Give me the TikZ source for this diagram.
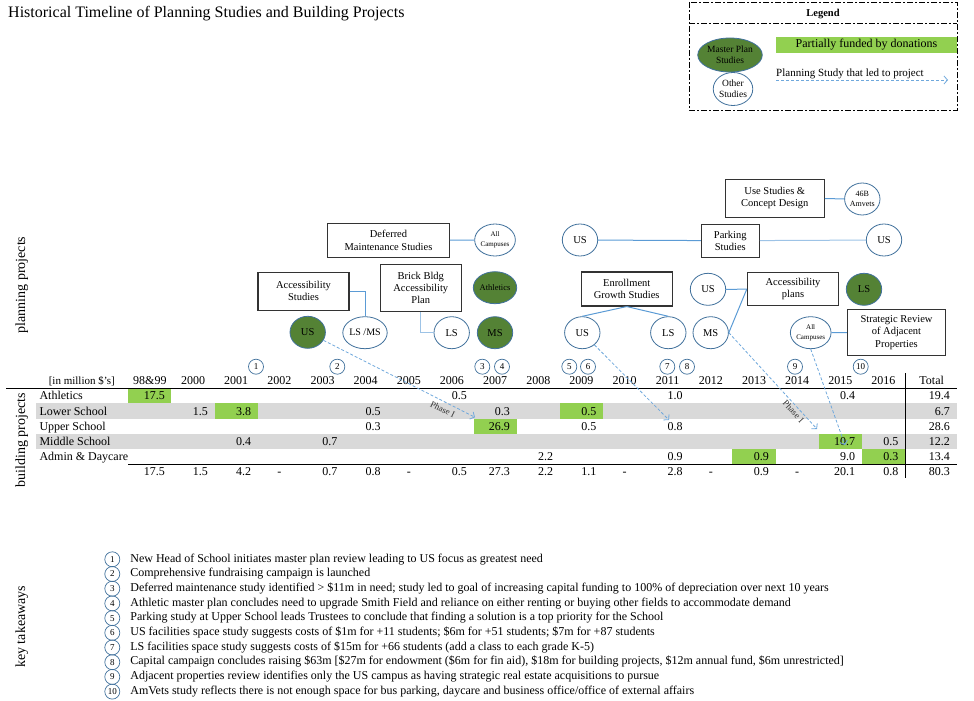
\documentclass[tikz,border=0pt]{standalone}
\usepackage{fontspec}
\setmainfont{Liberation Serif}
\usepackage{tikz}
\usetikzlibrary{arrows.meta,shapes.geometric,positioning}

\definecolor{circblue}{HTML}{41719C}
\definecolor{connblue}{HTML}{5B9BD5}
\definecolor{connlight}{HTML}{9DC3E6}
\definecolor{ledblue}{HTML}{6FA8DC}
\definecolor{darkgreen}{HTML}{548235}
\definecolor{cellgreen}{HTML}{92D050}
\definecolor{rowgrey}{HTML}{D9D9D9}

\tikzset{
  studybox/.style={draw=black!80, line width=1.1pt, fill=white, align=center, inner sep=1pt,
    font=\fontsize{10.5}{12.4}\selectfont},
  otherstudy/.style={ellipse, draw=circblue, line width=0.8pt, fill=white, minimum width=35.4pt,
    minimum height=32pt, inner sep=0pt, align=center, font=\fontsize{10.5}{12}\selectfont},
  masterstudy/.style={otherstudy, fill=darkgreen},
  smalltext/.style={font=\fontsize{7}{9.5}\selectfont},
  conn/.style={draw=connblue, line width=1pt},
  led/.style={draw=ledblue, line width=0.8pt, dash pattern=on 3pt off 2pt,
    -{Straight Barb[length=3.5pt,width=8pt]}},
  phase/.style={font=\fontsize{9}{10}\selectfont, text=black!80, inner sep=1pt},
  numc/.style={circle, draw=circblue, line width=0.7pt, minimum size=15pt, inner sep=0pt,
    font=\fontsize{9}{9}\selectfont},
  tbl/.style={font=\fontsize{12}{14}\selectfont, inner sep=0pt},
  val/.style={tbl, anchor=base east},
  yr/.style={tbl, anchor=base},
  sidelabel/.style={rotate=90, font=\fontsize{14}{16}\selectfont},
  takeaway/.style={font=\fontsize{12}{14}\selectfont, text height=8.5pt, text depth=3pt, inner sep=0pt},
  legendline/.style={line width=0.9pt, dash pattern=on 6pt off 2pt on 2pt off 2pt}
}

\begin{document}
\begin{tikzpicture}[x=1pt,y=-1pt]
  \useasboundingbox (0,0) rectangle (974,701);

  %title
  \node[anchor=base west, inner sep=0pt, font=\fontsize{16}{18}\selectfont] (title) at (8,17.5)
    {Historical Timeline of Planning Studies and Building Projects};

  %legend
  \draw[legendline] (689,2) rectangle (957,110);
  \draw[legendline] (689,23) -- (957,23);
  \node[font=\bfseries\fontsize{10.5}{12}\selectfont] (legend) at (823,14) {Legend};
  \node[fill=cellgreen, minimum width=181pt, minimum height=16pt, inner sep=0pt,
    font=\fontsize{12}{14}\selectfont] (donate) at (866.5,45) {Partially funded by donations};
  \node[masterstudy, minimum width=36pt, minimum height=34pt, font=\fontsize{9.5}{10.7}\selectfont]
    (lgmaster) at (730,55) {Master Plan\\Studies};
  \node[otherstudy, minimum width=38pt, minimum height=33pt, font=\fontsize{9.5}{10.7}\selectfont]
    (lgother) at (733,89) {Other\\Studies};
  \coordinate (lgA) at (776,80);
  \coordinate (lgB) at (948,80);
  \draw[led] (lgA) -- (lgB);
  \node[anchor=base west, inner sep=0pt, font=\fontsize{11}{13}\selectfont] (lgtext) at (776,77)
    {Planning Study that led to project};

  %side labels
  \node[sidelabel] (planlab) at (21.7,285) {planning projects};
  \node[sidelabel] (buildlab) at (21.7,440) {building projects};
  \node[sidelabel] (keylab) at (21.7,626.7) {key takeaways};

  %table background
  \fill[rowgrey] (36,403.4) rectangle (956.7,418.5);
  \fill[rowgrey] (36,433.6) rectangle (956.7,448.7);
  \foreach \c/\r in {0/0, 2/1, 10/1, 8/2, 16/3, 14/4, 17/4}
    \fill[cellgreen] ({128.3+43.15*\c},{388.3+15.1*\r}) rectangle ++(43.15,15.1);

  %table rules
  \draw[line width=0.8pt] (6,388.3) -- (956.7,388.3);
  \draw[line width=0.8pt] (128.3,464) -- (956.7,464);
  \draw[line width=0.8pt] (905.7,373) -- (905.7,478);

  %header
  \node[tbl, anchor=base east, font=\fontsize{11}{13}\selectfont] (unit) at (115,384.3) {[in million \$'s]};
  \node[yr] (y1998) at (149.9,384.3) {98\&99};
  \foreach \y in {2000,...,2016}
    \node[yr] (y\y) at ({149.9+43.15*(\y-1999)},384.3) {\y};
  \node[yr] (ytot) at (931.7,384.3) {Total};

  %milestones
  \foreach \x/\m in {256/1, 337.3/2, 482.3/3, 502/4, 569.3/5, 588/6, 667.3/7, 687/8, 795/9, 860.7/10}
    \node[numc] (m\m) at (\x,366.7) {\m};

  %rows
  \foreach \r/\t in {0/Athletics, 1/Lower School, 2/Upper School, 3/Middle School, 4/Admin \& Daycare}
    \node[tbl, anchor=base west] (row\r) at (39.3,{399.9+15.1*\r}) {\t};
  \foreach \r/\c/\v in {0/0/17.5, 0/7/0.5, 0/12/1.0, 0/16/0.4,
                        1/1/1.5, 1/2/3.8, 1/5/0.5, 1/8/0.3, 1/10/0.5,
                        2/5/0.3, 2/8/26.9, 2/10/0.5, 2/12/0.8,
                        3/2/0.4, 3/4/0.7, 3/16/10.7, 3/17/0.5,
                        4/9/2.2, 4/12/0.9, 4/14/0.9, 4/16/9.0, 4/17/0.3}
    \node[val] at ({164.95+43.15*\c},{399.9+15.1*\r}) {\v};
  \foreach \r/\v in {0/19.4, 1/6.7, 2/28.6, 3/12.2, 4/13.4, 5/80.3}
    \node[val] at (950,{399.9+15.1*\r}) {\v};
  %totals
  \foreach \c/\v in {0/17.5, 1/1.5, 2/4.2, 4/0.7, 5/0.8, 7/0.5, 8/27.3, 9/2.2, 10/1.1,
                     12/2.8, 14/0.9, 16/20.1, 17/0.8}
    \node[val] at ({164.95+43.15*\c},475.5) {\v};
  \foreach \c in {3,6,11,13,15}
    \node[yr] at ({149.9+43.15*\c},475.5) {-};

  %planning studies
  \node[studybox, minimum width=121.6pt, minimum height=34pt] (dms) at (388.5,240.3)
    {Deferred\\Maintenance Studies};
  \node[studybox, minimum width=91pt, minimum height=37.7pt] (acc) at (303.5,291.2)
    {Accessibility\\Studies};
  \node[studybox, minimum width=81pt, minimum height=46.6pt] (brick) at (420.8,288)
    {Brick Bldg\\Accessibility\\Plan};
  \node[studybox, minimum width=99pt, minimum height=37.7pt] (usestudy) at (774.8,198.2)
    {Use Studies \&\\Concept Design};
  \node[studybox, minimum width=58pt, minimum height=33.3pt] (parking) at (730.3,240.7)
    {Parking\\Studies};
  \node[studybox, minimum width=90.7pt, minimum height=34pt] (enroll) at (626.7,289)
    {Enrollment\\Growth Studies};
  \node[studybox, minimum width=91.4pt, minimum height=33pt] (accplan) at (793,289.2)
    {Accessibility\\plans};
  \node[studybox, minimum width=98.4pt, minimum height=46.4pt] (strategic) at (896.5,332.5)
    {Strategic Review\\of Adjacent\\Properties};

  %campuses
  \node[masterstudy] (usA) at (307.7,332.3) {US};
  \node[otherstudy, font=\fontsize{10}{12}\selectfont] (lsms) at (365,332.7) {LS /MS};
  \node[otherstudy] (lsB) at (451.7,332.7) {LS};
  \node[otherstudy, smalltext] (allA) at (495,240) {All\\Campuses};
  \node[masterstudy, font=\fontsize{8.5}{10}\selectfont] (athl) at (495,287.7) {Athletics};
  \node[masterstudy] (msA) at (495,332.7) {MS};
  \node[otherstudy] (usP) at (580,240) {US};
  \node[otherstudy] (usQ) at (884,240) {US};
  \node[otherstudy, font=\fontsize{8}{10}\selectfont] (amvets) at (862.3,199) {46B\\Amvets};
  \node[otherstudy] (usE) at (582.3,332.7) {US};
  \node[otherstudy] (lsE) at (668.3,332.7) {LS};
  \node[otherstudy] (usC) at (708,289.3) {US};
  \node[otherstudy] (msC) at (710.7,332.7) {MS};
  \node[masterstudy] (lsC) at (864,289.3) {LS};
  \node[otherstudy, smalltext] (allB) at (810.7,332.7) {All\\Campuses};

  %connectors
  \draw[conn] (dms) -- (allA);
  \draw[conn] (acc.east) -| (lsms.north);
  \draw[conn, draw=connlight] (brick.south) |- (lsB.west);
  \draw[conn] (usP) -- (parking);
  \draw[conn, draw=connlight] (parking) -- (usQ);
  \draw[conn] (usestudy) -- (amvets);
  \draw[conn] (enroll.south) -- (usE.north);
  \draw[conn] (enroll.south) -- (lsE.north);
  \draw[conn] (accplan.west) -- (usC.east);
  \draw[conn] (accplan.west) -- (msC.east);
  \draw[conn] (allB) -- (strategic);

  %studies that led to projects
  \coordinate (e1) at (475,417.3);
  \coordinate (e2) at (669,420);
  \coordinate (e3) at (817,429);
  \coordinate (e4) at (845,445);
  \draw[led] (usA) -- node[phase, sloped, below=3pt, pos=0.81] {Phase I} (e1);
  \draw[led] (usE) -- (e2);
  \draw[led] (msC.east) -- node[phase, sloped, below=1pt, pos=0.78] {Phase I} (e3);
  \draw[led] (allB.south) -- (e4);

  %takeaways
  \foreach \txt [count=\idx] in {
    {New Head of School initiates master plan review leading to US focus as greatest need},
    {Comprehensive fundraising campaign is launched},
    {Deferred maintenance study identified > \$11m in need; study led to goal of increasing capital funding to 100\% of depreciation over next 10 years},
    {Athletic master plan concludes need to upgrade Smith Field and reliance on either renting or buying other fields to accommodate demand},
    {Parking study at Upper School leads Trustees to conclude that finding a solution is a top priority for the School},
    {US facilities space study suggests costs of \$1m for +11 students; \$6m for +51 students; \$7m for +87 students},
    {LS facilities space study suggests costs of \$15m for +66 students (add a class to each grade K-5)},
    {Capital campaign concludes raising \$63m [\$27m for endowment (\$6m for fin aid), \$18m for building projects, \$12m annual fund, \$6m unrestricted]},
    {Adjacent properties review identifies only the US campus as having strategic real estate acquisitions to pursue},
    {AmVets study reflects there is not enough space for bus parking, daycare and business office/office of external affairs}}
  {
    \node[numc] (k\idx) at (112.3,{559.3+14.7*(\idx-1)}) {\idx};
    \node[takeaway, anchor=west, right=10pt of k\idx.east] (t\idx) {\txt};
  }
\end{tikzpicture}
\end{document}
